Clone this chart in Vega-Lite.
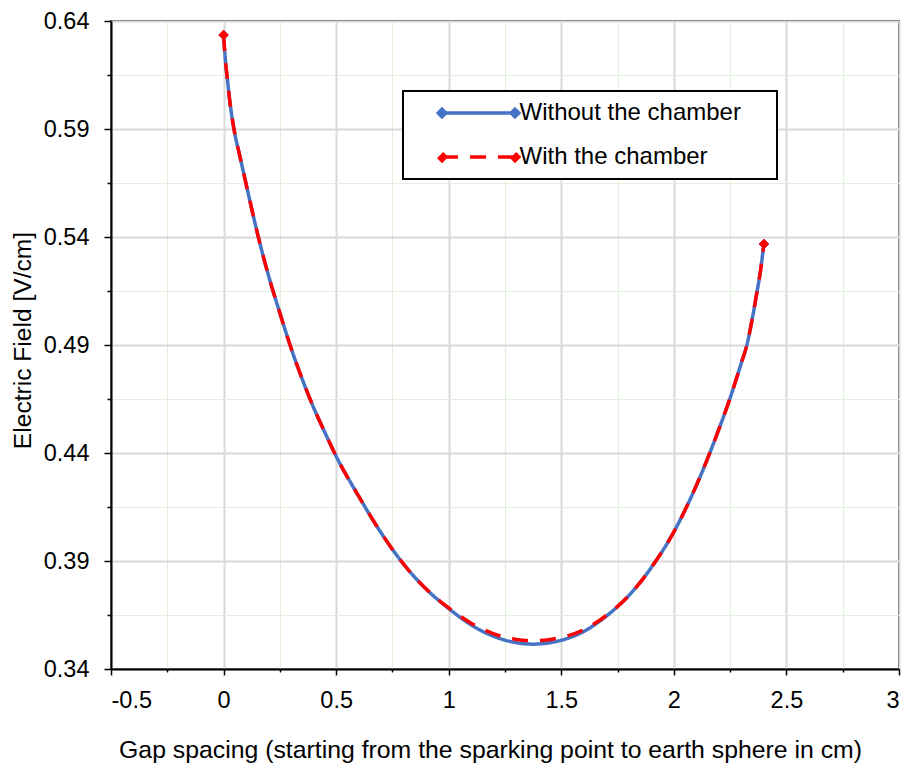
{
  "$schema": "https://vega.github.io/schema/vega-lite/v6.json",
  "width": 788,
  "height": 648,
  "autosize": "none",
  "padding": {"left": 111, "top": 21, "right": 11, "bottom": 96},
  "background": "white",
  "config": {
    "view": {"stroke": "black", "strokeWidth": 1.5},
    "font": "Liberation Sans"
  },
  "data": {
    "values": [
      {"x": 0, "y": 0.6335, "s": "Without the chamber"},
      {"x": 0.008, "y": 0.622, "s": "Without the chamber"},
      {"x": 0.017, "y": 0.613, "s": "Without the chamber"},
      {"x": 0.03, "y": 0.601, "s": "Without the chamber"},
      {"x": 0.047, "y": 0.5895, "s": "Without the chamber"},
      {"x": 0.071, "y": 0.578, "s": "Without the chamber"},
      {"x": 0.098, "y": 0.5655, "s": "Without the chamber"},
      {"x": 0.125, "y": 0.553, "s": "Without the chamber"},
      {"x": 0.152, "y": 0.541, "s": "Without the chamber"},
      {"x": 0.2, "y": 0.522, "s": "Without the chamber"},
      {"x": 0.25, "y": 0.5048, "s": "Without the chamber"},
      {"x": 0.3, "y": 0.4885, "s": "Without the chamber"},
      {"x": 0.35, "y": 0.474, "s": "Without the chamber"},
      {"x": 0.4, "y": 0.461, "s": "Without the chamber"},
      {"x": 0.45, "y": 0.4495, "s": "Without the chamber"},
      {"x": 0.5, "y": 0.4385, "s": "Without the chamber"},
      {"x": 0.6, "y": 0.42, "s": "Without the chamber"},
      {"x": 0.7, "y": 0.403, "s": "Without the chamber"},
      {"x": 0.8, "y": 0.3885, "s": "Without the chamber"},
      {"x": 0.9, "y": 0.377, "s": "Without the chamber"},
      {"x": 1.0, "y": 0.368, "s": "Without the chamber"},
      {"x": 1.1, "y": 0.3604, "s": "Without the chamber"},
      {"x": 1.2, "y": 0.3551, "s": "Without the chamber"},
      {"x": 1.3, "y": 0.3522, "s": "Without the chamber"},
      {"x": 1.375, "y": 0.3515, "s": "Without the chamber"},
      {"x": 1.45, "y": 0.3522, "s": "Without the chamber"},
      {"x": 1.5, "y": 0.3533, "s": "Without the chamber"},
      {"x": 1.6, "y": 0.3574, "s": "Without the chamber"},
      {"x": 1.7, "y": 0.3645, "s": "Without the chamber"},
      {"x": 1.8, "y": 0.374, "s": "Without the chamber"},
      {"x": 1.9, "y": 0.387, "s": "Without the chamber"},
      {"x": 2.0, "y": 0.4035, "s": "Without the chamber"},
      {"x": 2.1, "y": 0.425, "s": "Without the chamber"},
      {"x": 2.2, "y": 0.451, "s": "Without the chamber"},
      {"x": 2.25, "y": 0.4655, "s": "Without the chamber"},
      {"x": 2.3, "y": 0.4818, "s": "Without the chamber"},
      {"x": 2.325, "y": 0.4903, "s": "Without the chamber"},
      {"x": 2.35, "y": 0.5032, "s": "Without the chamber"},
      {"x": 2.37, "y": 0.515, "s": "Without the chamber"},
      {"x": 2.385, "y": 0.5245, "s": "Without the chamber"},
      {"x": 2.393, "y": 0.531, "s": "Without the chamber"},
      {"x": 2.4, "y": 0.5368, "s": "Without the chamber"},
      {"x": 0, "y": 0.6335, "s": "With the chamber"},
      {"x": 0.008, "y": 0.622, "s": "With the chamber"},
      {"x": 0.017, "y": 0.613, "s": "With the chamber"},
      {"x": 0.03, "y": 0.601, "s": "With the chamber"},
      {"x": 0.047, "y": 0.5895, "s": "With the chamber"},
      {"x": 0.071, "y": 0.578, "s": "With the chamber"},
      {"x": 0.098, "y": 0.5655, "s": "With the chamber"},
      {"x": 0.125, "y": 0.553, "s": "With the chamber"},
      {"x": 0.152, "y": 0.541, "s": "With the chamber"},
      {"x": 0.2, "y": 0.522, "s": "With the chamber"},
      {"x": 0.25, "y": 0.5048, "s": "With the chamber"},
      {"x": 0.3, "y": 0.4885, "s": "With the chamber"},
      {"x": 0.35, "y": 0.474, "s": "With the chamber"},
      {"x": 0.4, "y": 0.461, "s": "With the chamber"},
      {"x": 0.45, "y": 0.4495, "s": "With the chamber"},
      {"x": 0.5, "y": 0.4385, "s": "With the chamber"},
      {"x": 0.6, "y": 0.42, "s": "With the chamber"},
      {"x": 0.7, "y": 0.403, "s": "With the chamber"},
      {"x": 0.8, "y": 0.3885, "s": "With the chamber"},
      {"x": 0.9, "y": 0.377, "s": "With the chamber"},
      {"x": 1.0, "y": 0.3683, "s": "With the chamber"},
      {"x": 1.1, "y": 0.3612, "s": "With the chamber"},
      {"x": 1.2, "y": 0.3563, "s": "With the chamber"},
      {"x": 1.3, "y": 0.3537, "s": "With the chamber"},
      {"x": 1.375, "y": 0.353, "s": "With the chamber"},
      {"x": 1.45, "y": 0.3537, "s": "With the chamber"},
      {"x": 1.5, "y": 0.3546, "s": "With the chamber"},
      {"x": 1.6, "y": 0.3582, "s": "With the chamber"},
      {"x": 1.7, "y": 0.3648, "s": "With the chamber"},
      {"x": 1.8, "y": 0.374, "s": "With the chamber"},
      {"x": 1.9, "y": 0.387, "s": "With the chamber"},
      {"x": 2.0, "y": 0.4035, "s": "With the chamber"},
      {"x": 2.1, "y": 0.425, "s": "With the chamber"},
      {"x": 2.2, "y": 0.451, "s": "With the chamber"},
      {"x": 2.25, "y": 0.4655, "s": "With the chamber"},
      {"x": 2.3, "y": 0.4818, "s": "With the chamber"},
      {"x": 2.325, "y": 0.4903, "s": "With the chamber"},
      {"x": 2.35, "y": 0.5032, "s": "With the chamber"},
      {"x": 2.37, "y": 0.515, "s": "With the chamber"},
      {"x": 2.385, "y": 0.5245, "s": "With the chamber"},
      {"x": 2.393, "y": 0.531, "s": "With the chamber"},
      {"x": 2.4, "y": 0.5368, "s": "With the chamber"}
    ]
  },
  "encoding": {
    "x": {
      "field": "x", "type": "quantitative",
      "scale": {"domain": [-0.5, 3], "nice": false, "zero": false},
      "axis": {
        "title": "Gap spacing (starting from the sparking point to earth sphere in cm)",
        "values": [-0.5, -0.25, 0, 0.25, 0.5, 0.75, 1, 1.25, 1.5, 1.75, 2, 2.25, 2.5, 2.75, 3],
        "labelExpr": "abs(datum.value*2 - round(datum.value*2)) < 1e-6 ? '' + datum.value : ''",
        "grid": true,
        "gridColor": {"condition": {"test": "abs(datum.value*2 - round(datum.value*2)) < 1e-6", "value": "#d9d9d9"}, "value": "#e2efda"},
        "gridWidth": {"condition": {"test": "abs(datum.value*2 - round(datum.value*2)) < 1e-6", "value": 2}, "value": 1.2},
        "tickSize": {"condition": {"test": "abs(datum.value*2 - round(datum.value*2)) < 1e-6", "value": 6}, "value": 3},
        "tickColor": "black", "tickWidth": 1.5,
        "domainColor": "black", "domainWidth": 2,
        "labelFont": "Liberation Sans", "labelFontSize": 23.5, "labelColor": "black", "labelPadding": 13,
        "labelOverlap": false,
        "titleFont": "Liberation Sans", "titleFontSize": 24.8, "titleFontWeight": "normal", "titleColor": "black",
        "titleBaseline": "alphabetic", "titleX": 379, "titleY": 88
      }
    },
    "y": {
      "field": "y", "type": "quantitative",
      "scale": {"domain": [0.34, 0.64], "nice": false, "zero": false},
      "axis": {
        "title": "Electric Field [V/cm]",
        "values": [0.34, 0.365, 0.39, 0.415, 0.44, 0.465, 0.49, 0.515, 0.54, 0.565, 0.59, 0.615, 0.64],
        "labelExpr": "abs((datum.value-0.34)*20 - round((datum.value-0.34)*20)) < 1e-6 ? '' + datum.value : ''",
        "grid": true,
        "gridColor": {"condition": {"test": "abs((datum.value-0.34)*20 - round((datum.value-0.34)*20)) < 1e-6", "value": "#d9d9d9"}, "value": "#e2efda"},
        "gridWidth": {"condition": {"test": "abs((datum.value-0.34)*20 - round((datum.value-0.34)*20)) < 1e-6", "value": 2}, "value": 1.2},
        "tickSize": {"condition": {"test": "abs((datum.value-0.34)*20 - round((datum.value-0.34)*20)) < 1e-6", "value": 7}, "value": 4},
        "tickColor": "black", "tickWidth": 1.5,
        "domainColor": "black", "domainWidth": 2,
        "labelFont": "Liberation Sans", "labelFontSize": 23.5, "labelColor": "black", "labelPadding": 15,
        "labelOverlap": false,
        "titleFont": "Liberation Sans", "titleFontSize": 24.6, "titleFontWeight": "normal", "titleColor": "black",
        "titleBaseline": "alphabetic", "titleX": -81, "titleY": 319
      }
    }
  },
  "layer": [
    {
      "transform": [{"filter": "datum.s == 'Without the chamber'"}],
      "mark": {"type": "line", "interpolate": "monotone", "strokeWidth": 3.5},
      "encoding": {
        "color": {
          "field": "s", "type": "nominal",
          "scale": {"domain": ["Without the chamber", "With the chamber"], "range": ["#4472C4", "#FF0000"]},
          "legend": {
            "orient": "none", "legendX": 292, "legendY": 70, "title": null,
            "padding": 10, "strokeColor": "black", "fillColor": "white",
            "symbolType": "M-3.65,0L3.65,0M-3.65,-0.38L-3.27,0L-3.65,0.38L-4.03,0ZM3.65,-0.38L4.03,0L3.65,0.38L3.27,0ZM28.15,0",
            "symbolSize": 400, "symbolStrokeWidth": 3.5, "symbolOffset": 53.5,
            "labelOffset": 29, "labelFont": "Liberation Sans", "labelFontSize": 24, "labelColor": "black", "labelLimit": 500,
            "rowPadding": 20,
            "encode": {
              "symbols": {"update": {"fill": {"scale": "color", "field": "value"}}},
              "legend": {"update": {"strokeWidth": {"value": 2}}}
            }
          }
        },
        "strokeDash": {
          "field": "s", "type": "nominal",
          "scale": {"domain": ["Without the chamber", "With the chamber"], "range": [[1, 0], [16, 12]]}
        }
      }
    },
    {
      "transform": [{"filter": "datum.s == 'With the chamber'"}],
      "mark": {"type": "line", "interpolate": "monotone", "strokeWidth": 3.5},
      "encoding": {
        "color": {"field": "s", "type": "nominal"},
        "strokeDash": {"field": "s", "type": "nominal"}
      }
    },
    {
      "transform": [{"filter": "datum.s == 'Without the chamber' && (datum.x == 0 || datum.x == 2.4)"}],
      "mark": {"type": "point", "shape": "diamond", "filled": true, "size": 110, "color": "#4472C4", "opacity": 1},
      "encoding": {}
    },
    {
      "transform": [{"filter": "datum.s == 'With the chamber' && (datum.x == 0 || datum.x == 2.4)"}],
      "mark": {"type": "point", "shape": "diamond", "filled": true, "size": 110, "color": "#FF0000", "opacity": 1},
      "encoding": {}
    }
  ]
}
